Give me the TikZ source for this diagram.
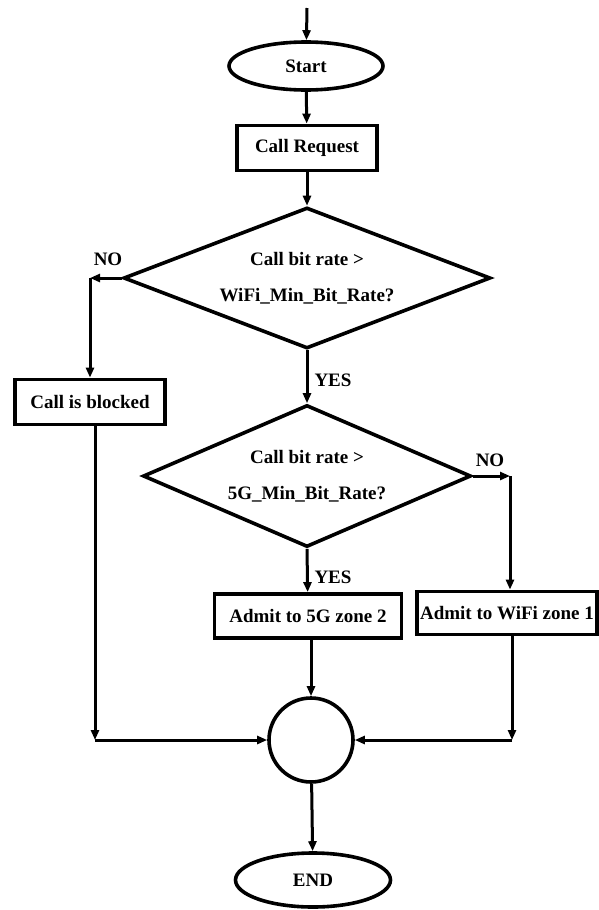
\documentclass[tikz,border=0pt]{standalone}
\usepackage{fontspec}
\setmainfont{Liberation Serif}
\usetikzlibrary{shapes.geometric,arrows.meta}
\begin{document}
\begin{tikzpicture}[x=1pt,y=-1pt,
  every node/.style={font=\bfseries\fontsize{19}{36}\selectfont},
  arr/.style={line width=3pt,-{Triangle[length=10pt,width=8pt]}},
  box/.style={draw,line width=3.8pt,rectangle,inner sep=0pt},
  oval/.style={draw,line width=3.6pt,ellipse,inner sep=0pt},
  dia/.style={draw,line width=3.6pt,diamond,inner sep=0pt},
  lbl/.style={inner sep=0pt,align=center}]
\useasboundingbox (0,0) rectangle (598,910);
\coordinate (top) at (307,8);
\node[oval,minimum width=154pt,minimum height=48pt] (start) at (306,66) {Start};
\node[box,minimum width=140pt,minimum height=45pt] (req) at (307,148) {Call Request};
\node[dia,minimum width=367pt,minimum height=141pt] (d1) at (307,278) {};
\node[lbl] (t1) at (d1) {Call bit rate >\\WiFi\_Min\_Bit\_Rate?};
\coordinate (nc) at (90,278);
\node[box,minimum width=150pt,minimum height=45pt] (blocked) at (90,402) {Call is blocked};
\node[dia,minimum width=328pt,minimum height=142pt] (d2) at (307,476) {};
\node[lbl] (t2) at (d2) {Call bit rate >\\5G\_Min\_Bit\_Rate?};
\coordinate (rc) at (510,476);
\node[box,minimum width=187pt,minimum height=44pt] (adm5) at (308,616) {Admit to 5G zone 2};
\node[box,minimum width=180pt,minimum height=43pt] (admw) at (507,613) {Admit to WiFi zone 1};
\node[draw,line width=3.6pt,circle,minimum size=84pt,inner sep=0pt] (circ) at (311,740) {};
\coordinate (lc) at (95,740);
\coordinate (rc2) at (512,740);
\node[oval,minimum width=155pt,minimum height=54pt] (end) at (313,880) {END};

\draw[arr] (top) -- (start);
\draw[arr] (start) -- (req);
\draw[arr] (req) -- (d1);
\draw[arr] (d1.west) -- (nc);
\draw[arr] (nc) -- (blocked);
\draw[arr] (d1.south) -- (d2.north);
\draw[arr] (d2.east) -- (rc);
\draw[arr] (rc) -- (admw.north -| rc);
\draw[arr] (d2.south) -- (adm5);
\draw[arr] (blocked.south -| lc) -- (lc);
\draw[arr] (lc) -- (circ);
\draw[arr] (adm5.south -| circ) -- (circ);
\draw[arr] (admw.south -| rc2) -- (rc2);
\draw[arr] (rc2) -- (circ);
\draw[arr] (circ) -- (end);

\node[lbl] (no1) at (108,259) {NO};
\node[lbl] (yes1) at (333,380) {YES};
\node[lbl] (no2) at (490,460) {NO};
\node[lbl] (yes2) at (333,577) {YES};
\end{tikzpicture}
\end{document}
